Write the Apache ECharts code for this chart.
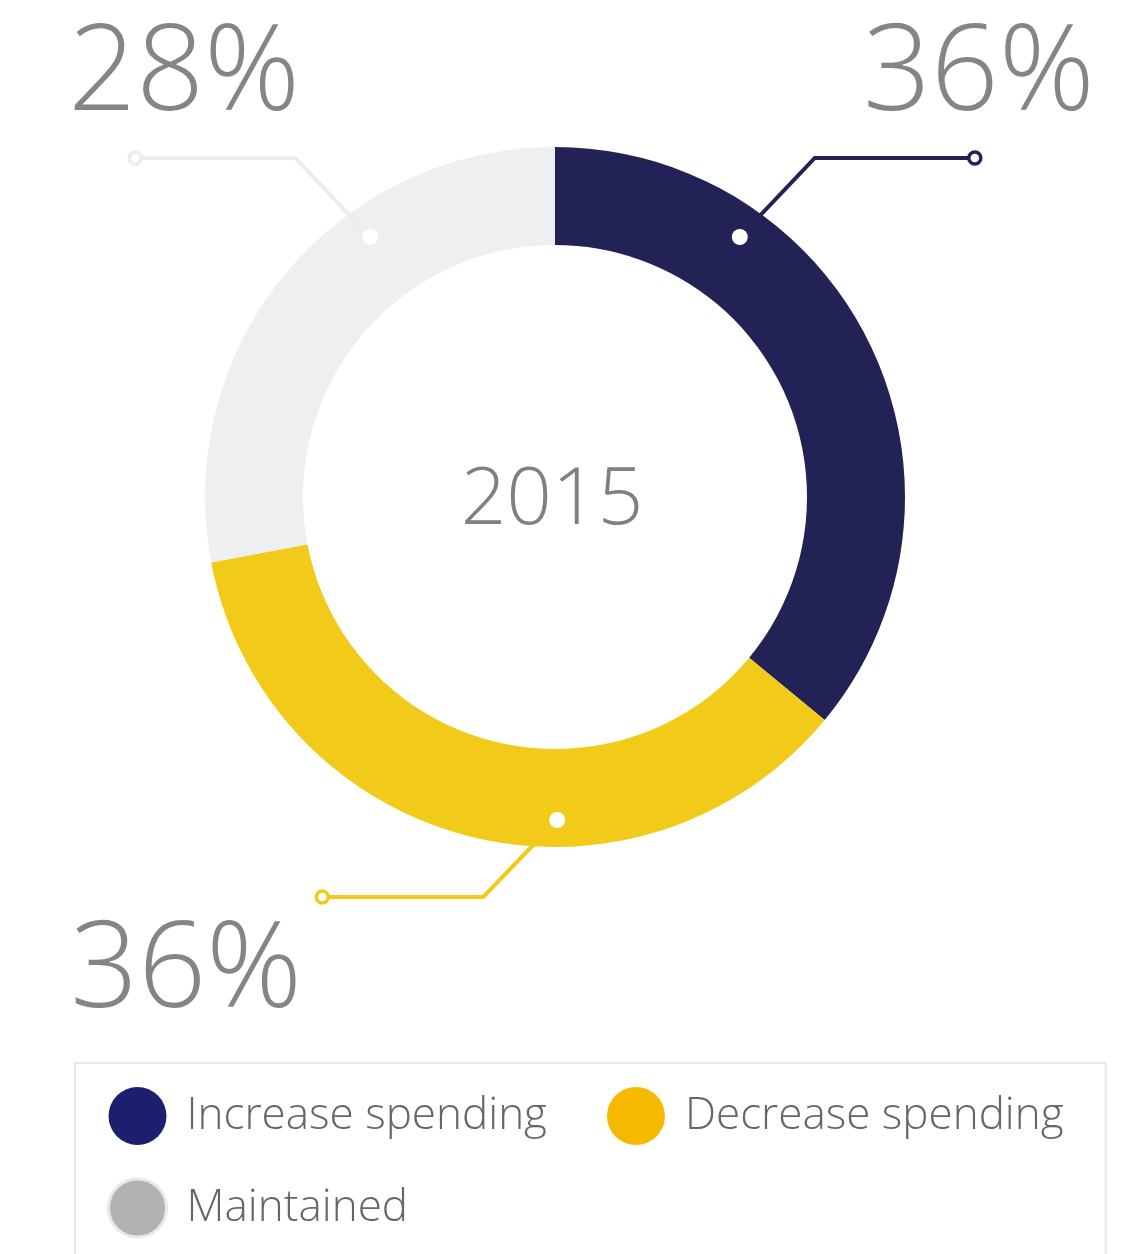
<!DOCTYPE html>
<html>
<head>
<meta charset="utf-8">
<style>
  html, body { margin: 0; padding: 0; background: #fff; }
  #chart { width: 1138px; height: 1254px; }
</style>
<script src="https://cdn.jsdelivr.net/npm/echarts@6/dist/echarts.min.js"></script>
</head>
<body>
<div id="chart"></div>
<script>
// data
var categories = ['Increase spending', 'Decrease spending', 'Maintained']
var shares = [36, 36, 28]
var yearLabel = '2015'

// colours
var ringColors = ['#232257', '#f2ca1a', '#eeeff1']
var legendColors = ['#1b1f6e', '#f7b800', '#b2b2b2']
var lineColors = ['#232257', '#f2ca1a', '#ececed']

var FONT = '"Open Sans", "Segoe UI", "Noto Sans", sans-serif'
var center = [555, 497]
var radius = [252, 350]

// leader layout per slice: angle from top (clockwise), elbow offset, run, label offset/alignment
var leaders = [
  { angle: 35.4, r: 319, elbow: [75, -79], run: 160, label: [120, -82], align: 'right' },
  { angle: 179.6, r: 323, elbow: [-74, 77], run: -161, label: [-252, 76], align: 'left' },
  { angle: 324.6, r: 319, elbow: [-75, -79], run: -160, label: [-67, -82], align: 'left' }
]

var total = shares.reduce(function(a, b) { return a + b }, 0)

function buildGraphics() {
  var els = []
  leaders.forEach(function(l, i) {
    var rad = l.angle * Math.PI / 180
    var dot = [center[0] + l.r * Math.sin(rad), center[1] - l.r * Math.cos(rad)]
    var elbow = [dot[0] + l.elbow[0], dot[1] + l.elbow[1]]
    var end = [elbow[0] + l.run, elbow[1]]
    els.push({
      type: 'polyline',
      z: 10,
      shape: { points: [dot, elbow, end] },
      style: { stroke: lineColors[i], lineWidth: 4, fill: null }
    })
    els.push({
      type: 'circle',
      z: 11,
      shape: { cx: dot[0], cy: dot[1], r: 8 },
      style: { fill: '#ffffff' }
    })
    els.push({
      type: 'circle',
      z: 11,
      shape: { cx: end[0], cy: end[1], r: 6 },
      style: { fill: '#ffffff', stroke: lineColors[i], lineWidth: 3.5 }
    })
    els.push({
      type: 'text',
      z: 12,
      x: end[0] + l.label[0],
      y: end[1] + l.label[1],
      style: {
        text: Math.round(shares[i] / total * 100) + '%',
        fontSize: 119,
        fontWeight: 300,
        fontFamily: FONT,
        fill: '#858585',
        align: l.align,
        verticalAlign: 'middle'
      }
    })
  })
  els.push({
    type: 'text',
    z: 12,
    x: center[0] - 3,
    y: center[1] + 4,
    style: {
      text: yearLabel,
      fontSize: 80,
      fontWeight: 300,
      fontFamily: FONT,
      fill: '#808080',
      align: 'center',
      verticalAlign: 'middle'
    }
  })
  return els
}

var chart = echarts.init(document.getElementById('chart'))
chart.setOption({
  animation: false,
  legend: {
    left: 75,
    top: 1063,
    width: 1000,
    padding: [24, 16, 40, 32],
    borderColor: '#e9e9e9',
    borderWidth: 2,
    itemWidth: 58,
    itemHeight: 58,
    itemGap: 34,
    icon: 'circle',
    selectedMode: false,
    textStyle: {
      fontSize: 44,
      fontWeight: 300,
      fontFamily: FONT,
      color: '#666666',
      lineHeight: 52,
      padding: [6, 26, 0, 15]
    },
    data: categories.map(function(name, i) {
      var item = { name: name, itemStyle: { color: legendColors[i] } }
      if (i === 2) {
        item.itemStyle.borderColor = '#e6e8ec'
        item.itemStyle.borderWidth = 3
      }
      return item
    })
  },
  series: [
    {
      type: 'pie',
      center: center,
      radius: radius,
      startAngle: 90,
      clockwise: true,
      silent: true,
      label: { show: false },
      labelLine: { show: false },
      data: categories.map(function(name, i) {
        return { name: name, value: shares[i], itemStyle: { color: ringColors[i] } }
      })
    }
  ],
  graphic: buildGraphics()
})
</script>
</body>
</html>
